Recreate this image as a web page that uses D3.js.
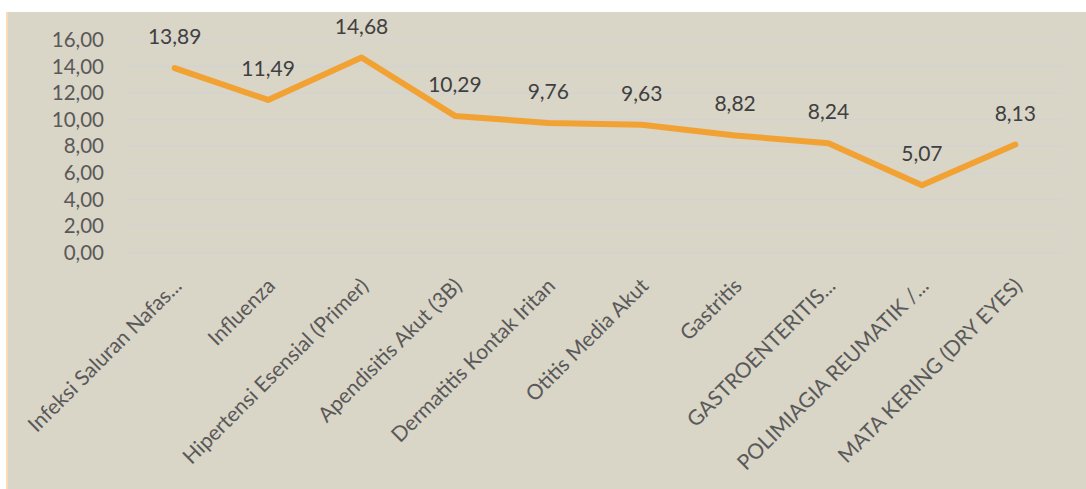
<!DOCTYPE html>
<html><head><meta charset="utf-8">
<script src="https://cdn.jsdelivr.net/npm/d3@7"></script>
<style>
html,body{margin:0;padding:0;background:#fff;}
svg{display:block;}
</style></head>
<body>
<script>
const categories = ["Infeksi Saluran Nafas...","Influenza","Hipertensi Esensial (Primer)","Apendisitis Akut (3B)","Dermatitis Kontak Iritan","Otitis Media Akut","Gastritis","GASTROENTERITIS...","POLIMIAGIA REUMATIK /...","MATA KERING (DRY EYES)"];
const values = [13.89,11.49,14.68,10.29,9.76,9.63,8.82,8.24,5.07,8.13];
const yTicks = [0,2,4,6,8,10,12,14,16];

const W = 1086, H = 489;
const fmt = v => v.toFixed(2).replace(".", ",");
const svg = d3.select("body").append("svg").attr("width", W).attr("height", H);

// panel
svg.append("rect").attr("x", 6).attr("y", 12).attr("width", 2).attr("height", H-12).attr("fill", "#F6DDB8");
svg.append("rect").attr("x", 8).attr("y", 12).attr("width", W-8).attr("height", H-12).attr("fill", "#D9D5C7");

const x = d3.scaleBand().domain(categories).range([128, 1062]);
const y = d3.scaleLinear().domain([0, 16]).range([252.7, 40]);

// gridlines
svg.append("g").selectAll("line").data(yTicks).join("line")
  .attr("x1", 128).attr("x2", 1062)
  .attr("y1", d => y(d)).attr("y2", d => y(d))
  .attr("stroke", "#D3D3D3").attr("stroke-width", 1.5);

// y axis labels
const yAxis = d3.axisLeft(y).tickValues(yTicks).tickFormat(fmt).tickSize(0).tickPadding(0);
const ga = svg.append("g").attr("transform", "translate(104,0)").call(yAxis);
ga.select(".domain").remove();
ga.selectAll("text").attr("font-family", "Lato, 'Open Sans', sans-serif").attr("font-size", 20.5).attr("fill", "#595959");

// category labels
const xAxis = d3.axisBottom(x).tickSize(0).tickPadding(0);
const gx = svg.append("g").call(xAxis);
gx.select(".domain").remove();
gx.selectAll(".tick").attr("transform", d => `translate(${x(d) + x.bandwidth()/2 + 3},282)`);
gx.selectAll("text")
  .attr("font-family", "Lato, 'Open Sans', sans-serif").attr("font-size", 21).attr("fill", "#595959")
  .attr("text-anchor", "end").attr("transform", "rotate(-45)").attr("y", 0).attr("dy", "0.35em");

// line
const line = d3.line().x((d, i) => x(categories[i]) + x.bandwidth()/2).y(d => y(d));
svg.append("path").datum(values).attr("d", line)
  .attr("fill", "none").attr("stroke", "#F2A232").attr("stroke-width", 6)
  .attr("stroke-linecap", "round").attr("stroke-linejoin", "round");

// value labels
svg.append("g").selectAll("text").data(values).join("text")
  .attr("x", (d, i) => x(categories[i]) + x.bandwidth()/2)
  .attr("y", d => y(d) - 24)
  .attr("text-anchor", "middle")
  .attr("font-family", "Lato, 'Open Sans', sans-serif").attr("font-size", 21).attr("fill", "#404040")
  .text(fmt);
</script>
</body></html>
